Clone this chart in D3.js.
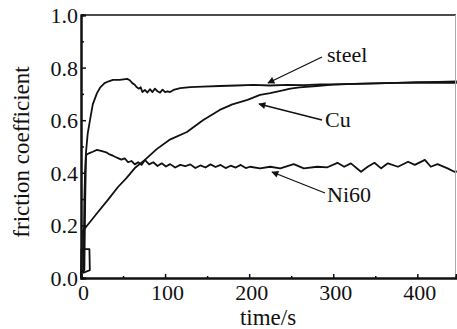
<!DOCTYPE html>
<html>
<head>
<meta charset="utf-8">
<script src="https://cdn.jsdelivr.net/npm/d3@7"></script>
</head>
<body style="margin:0">
<svg id="chart" width="457" height="329"></svg>
<script>
var fontName = "'Liberation Serif'";

// data: time (s) and friction coefficient
var steelT = [0, 3, 4, 5, 6, 8, 10.7, 14, 19, 23, 28, 33, 38, 46, 55, 58, 61, 64, 66, 69, 71, 73, 76, 79, 82, 85, 88, 91, 94, 97, 100, 103, 106, 110, 118, 130, 145, 165, 185, 205, 225, 245, 265, 285, 300, 325, 350, 375, 400, 425, 447];
var steelF = [0.02, 0.03, 0.3, 0.42, 0.48, 0.55, 0.6, 0.66, 0.703, 0.725, 0.741, 0.748, 0.753, 0.753, 0.757, 0.752, 0.741, 0.735, 0.726, 0.72, 0.725, 0.707, 0.715, 0.705, 0.718, 0.707, 0.72, 0.71, 0.705, 0.716, 0.707, 0.71, 0.707, 0.715, 0.722, 0.726, 0.728, 0.73, 0.732, 0.734, 0.732, 0.734, 0.733, 0.736, 0.736, 0.738, 0.74, 0.742, 0.745, 0.746, 0.748];

var cuT = [0, 0.5, 10, 10.5, 3, 2.4, 10, 20, 32, 44, 54, 64, 76, 90, 105, 126, 145, 165, 180, 198, 213, 225, 240, 249, 260, 280, 300, 325, 350, 375, 400, 425, 447];
var cuF = [0.0, 0.11, 0.11, 0.03, 0.02, 0.18, 0.21, 0.25, 0.297, 0.346, 0.38, 0.418, 0.449, 0.49, 0.525, 0.555, 0.6, 0.639, 0.66, 0.677, 0.696, 0.703, 0.713, 0.72, 0.725, 0.73, 0.735, 0.738, 0.74, 0.742, 0.743, 0.742, 0.742];

var ni60T = [0, 4, 5, 6, 10, 14, 19, 25, 30, 34, 38, 41, 44, 48, 52, 56, 60, 64, 68, 72, 76, 81, 86, 91, 96, 101, 106, 112, 118, 124, 130, 136, 142, 148, 154, 160, 166, 172, 178, 184, 190, 196, 201, 213, 225, 237, 253, 265, 281, 293, 305, 313, 321, 333, 341, 349, 357, 365, 377, 389, 397, 409, 416, 424, 436, 444, 447];
var ni60F = [0.02, 0.03, 0.3, 0.468, 0.475, 0.48, 0.487, 0.482, 0.478, 0.47, 0.465, 0.46, 0.456, 0.45, 0.455, 0.44, 0.445, 0.432, 0.44, 0.43, 0.449, 0.432, 0.44, 0.426, 0.436, 0.424, 0.433, 0.42, 0.43, 0.425, 0.432, 0.418, 0.428, 0.42, 0.432, 0.422, 0.43, 0.418, 0.427, 0.42, 0.43, 0.418, 0.423, 0.417, 0.423, 0.417, 0.433, 0.417, 0.423, 0.421, 0.438, 0.423, 0.436, 0.404, 0.423, 0.438, 0.417, 0.436, 0.423, 0.442, 0.43, 0.449, 0.423, 0.433, 0.417, 0.404, 0.405];

var yTicks = [0.0, 0.2, 0.4, 0.6, 0.8, 1.0];
var xTicks = [0, 100, 200, 300, 400];

var labels = [
  { name: "steel", tx: 327, ty: 62, from: [322, 57], to: [268, 83] },
  { name: "Cu", tx: 325, ty: 127, from: [322, 120], to: [259, 104] },
  { name: "Ni60", tx: 327, ty: 202, from: [325, 193], to: [272, 172] }
];

var margin = { left: 81, top: 15, right: 1, bottom: 51 };
var width = 457, height = 329;

var svg = d3.select("#chart");

var x = d3.scaleLinear().domain([0, 446]).range([margin.left, width - margin.right]);
var y = d3.scaleLinear().domain([0, 1]).range([height - margin.bottom, margin.top]);

// Curves
var line = d3.line()
  .x((d) => x(d[0]))
  .y((d) => y(d[1]));

[[steelT, steelF], [cuT, cuF], [ni60T, ni60F]].forEach(function (s) {
  svg.append("path")
    .datum(d3.zip(s[0], s[1]))
    .attr("d", line)
    .attr("fill", "none")
    .attr("stroke", "#111")
    .attr("stroke-width", 1.8)
    .attr("stroke-linejoin", "round");
});

// Frame
svg.append("line")
  .attr("x1", x(0)).attr("x2", width - margin.right)
  .attr("y1", y(1)).attr("y2", y(1))
  .attr("stroke", "#111").attr("stroke-width", 1.5);
svg.append("line")
  .attr("x1", width - margin.right - 0.5).attr("x2", width - margin.right - 0.5)
  .attr("y1", y(1)).attr("y2", y(0))
  .attr("stroke", "#aaa").attr("stroke-width", 1);

// Axes, ticks inward
var yAxis = d3.axisLeft(y).tickValues(yTicks).tickFormat(d3.format(".1f")).tickSize(-5);
var yMinor = d3.axisLeft(y).tickValues([0.1, 0.3, 0.5, 0.7, 0.9]).tickFormat("").tickSize(-3);
var xAxis = d3.axisBottom(x).tickValues(xTicks).tickFormat(d3.format("d")).tickSize(-4);
var xMinor = d3.axisBottom(x).tickValues([50, 150, 250, 350]).tickFormat("").tickSize(-2);

var gy = svg.append("g").attr("transform", "translate(" + x(0) + ",0)").call(yAxis);
svg.append("g").attr("transform", "translate(" + x(0) + ",0)").call(yMinor);
var gx = svg.append("g").attr("transform", "translate(0," + y(0) + ")").call(xAxis);
svg.append("g").attr("transform", "translate(0," + y(0) + ")").call(xMinor);

svg.selectAll(".domain").attr("stroke", "#111").attr("stroke-width", 2);
svg.selectAll(".tick line").attr("stroke", "#111").attr("stroke-width", 1.5);
svg.selectAll(".tick text").attr("font-size", 22).attr("fill", "#111");
gy.selectAll(".tick text").attr("x", -3).attr("dy", "0.34em");
gx.selectAll(".tick text").attr("y", 6).attr("dx", 2);

// Axis titles
svg.append("text")
  .attr("transform", "translate(29,152) rotate(-90)")
  .attr("text-anchor", "middle")
  .attr("font-size", 23)
  .attr("fill", "#111")
  .text("friction coefficient");
svg.append("text")
  .attr("x", 268).attr("y", 325)
  .attr("text-anchor", "middle")
  .attr("font-size", 23)
  .attr("fill", "#111")
  .text("time/s");

// Callout labels with arrows
svg.append("defs").append("marker")
  .attr("id", "head")
  .attr("viewBox", "0 0 10 10")
  .attr("refX", 9).attr("refY", 5)
  .attr("markerWidth", 9).attr("markerHeight", 7)
  .attr("markerUnits", "userSpaceOnUse")
  .attr("orient", "auto")
  .append("path")
  .attr("d", "M0,0 L10,5 L0,10 z")
  .attr("fill", "#111");

labels.forEach(function (l) {
  svg.append("line")
    .attr("x1", l.from[0]).attr("y1", l.from[1])
    .attr("x2", l.to[0]).attr("y2", l.to[1])
    .attr("stroke", "#111").attr("stroke-width", 1.3)
    .attr("marker-end", "url(#head)");
  svg.append("text")
    .attr("x", l.tx).attr("y", l.ty)
    .attr("font-size", 22)
    .attr("fill", "#111")
    .text(l.name);
});

// every text in the serif face
svg.selectAll("g").attr("font-family", null);
svg.selectAll("text").attr("font-family", fontName).style("font-family", fontName);
</script>
</body>
</html>
